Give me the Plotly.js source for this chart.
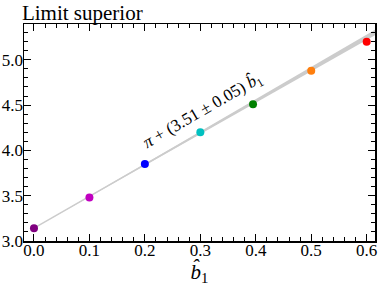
<!DOCTYPE html>
<html><head><meta charset="utf-8">
<script src="https://cdn.plot.ly/plotly-3.0.1.min.js"></script>
<style>html,body{margin:0;padding:0;background:#fff}#c{width:378px;height:286px}</style>
</head><body><div id="c"></div>
<script>
const b1 = [0.0, 0.1, 0.2, 0.3, 0.395, 0.5, 0.6];
const limSup = [3.14, 3.48, 3.85, 4.20, 4.51, 4.88, 5.20];
const colors = ['#800080', '#c000c0', '#0000ff', '#00c0c0', '#008000', '#ff7f0e', '#ff0000'];
const fitIntercept = Math.PI;
const fitSlope = 3.51;
const fitErr = 0.05;
const fitX = [0, 0.62];
const xTicks = [0.0, 0.1, 0.2, 0.3, 0.4, 0.5, 0.6];
const xTickText = ['0.0', '0.1', '0.2', '0.3', '0.4', '0.5', '0.6'];
const yTicks = [3.0, 3.5, 4.0, 4.5, 5.0];
const yTickText = ['3.0', '3.5', '4.0', '4.5', '5.0'];

const upper = fitX.map(x => fitIntercept + (fitSlope + fitErr) * x);
const lower = fitX.map(x => fitIntercept + (fitSlope - fitErr) * x);
const band = {
  x: fitX.concat(fitX.slice().reverse()),
  y: upper.concat(lower.slice().reverse()),
  fill: 'toself', fillcolor: '#cccccc', mode: 'lines',
  line: {color: '#cccccc', width: 0}, hoverinfo: 'skip', showlegend: false
};
const center = {
  x: fitX, y: fitX.map(x => fitIntercept + fitSlope * x),
  mode: 'lines', line: {color: '#cccccc', width: 1.5}, showlegend: false
};
const pts = {
  x: b1, y: limSup, mode: 'markers',
  marker: {color: colors, size: 8}, showlegend: false
};
const font = 'Liberation Serif';
const layout = {
  width: 378, height: 286,
  margin: {l: 24, r: 3, t: 24, b: 45},
  paper_bgcolor: '#fff', plot_bgcolor: '#fff',
  font: {family: font, size: 17, color: '#000'},
  title: {text: 'Limit superior', x: 0.058, xanchor: 'left', y: 0.98, yanchor: 'top', font: {family: font, size: 21}},
  showlegend: false,
  xaxis: {
    range: [-0.018, 0.615], tickvals: xTicks, ticktext: xTickText,
    ticks: 'inside', ticklen: 7, tickwidth: 1, tickcolor: '#000',
    showline: true, linecolor: '#000', linewidth: 1.5, mirror: 'ticks',
    showgrid: false, zeroline: false, ticklabelstandoff: -7,
    tickfont: {family: font, size: 17},
    minor: {dtick: 0.02, ticks: 'inside', ticklen: 4, tickcolor: '#000', tickwidth: 1, showgrid: false},
    title: {text: '<i>b̂</i><sub>1</sub>', font: {family: font, size: 21}, standoff: 7}
  },
  yaxis: {
    range: [3.0, 5.395], tickvals: yTicks, ticktext: yTickText,
    ticks: 'inside', ticklen: 7, tickwidth: 1, tickcolor: '#000',
    showline: true, linecolor: '#000', linewidth: 1.5, mirror: 'ticks',
    showgrid: false, zeroline: false, ticklabelstandoff: -4,
    tickfont: {family: font, size: 17},
    minor: {dtick: 0.1, ticks: 'inside', ticklen: 4, tickcolor: '#000', tickwidth: 1, showgrid: false}
  },
  annotations: [{
    x: 0.305, y: 4.43, xref: 'x', yref: 'y', showarrow: false,
    text: '<i>π</i> + (3.51 ± 0.05) <i>b̂</i><sub>1</sub>', textangle: -30,
    font: {family: font, size: 17, color: '#000'}
  }]
};
Plotly.newPlot('c', [band, center, pts], layout, {staticPlot: true});
</script></body></html>
